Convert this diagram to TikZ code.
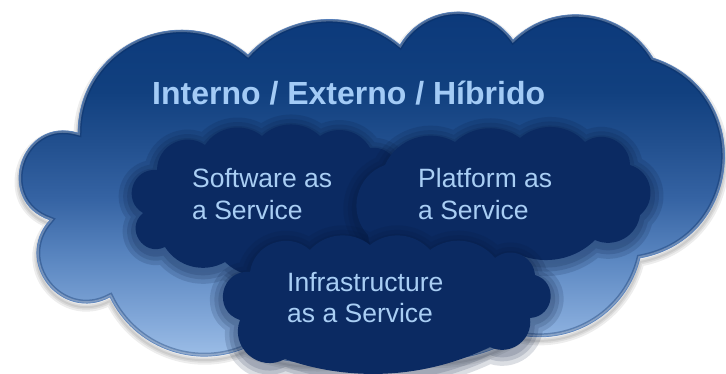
\documentclass[tikz,border=0pt]{standalone}
\usepackage{fontspec}
\setmainfont{Liberation Sans}
\definecolor{s0}{HTML}{0B387A}
\definecolor{s1}{HTML}{11407F}
\definecolor{s2}{HTML}{22508F}
\definecolor{s3}{HTML}{3563A3}
\definecolor{s4}{HTML}{5C88C2}
\definecolor{s5}{HTML}{86ABDB}
\definecolor{s6}{HTML}{A0C1E9}
\definecolor{halocol}{HTML}{04163A}
\definecolor{smallfill}{HTML}{0B2A62}
\definecolor{smalltxt}{HTML}{A9CEF4}
\definecolor{titletxt}{HTML}{A3CBF6}
\definecolor{rimdark}{HTML}{082A5E}
\definecolor{rimout}{HTML}{4F7DBE}
\pgfdeclareverticalshading{bigshade}{100bp}{color(0bp)=(s6); color(26bp)=(s6); color(31bp)=(s5); color(39.6bp)=(s4); color(48.1bp)=(s3); color(55.3bp)=(s2); color(62.4bp)=(s1); color(75bp)=(s0); color(100bp)=(s0)}
\def\bigpath{(78,133) to[bump=0.32] (248,55) to[bump=0.2] (400,45) to[bump=0.27] (513,40) to[bump=0.24] (653,58) to[bump=0.39] (640,258) to[bump=0.2] (520,335) to[bump=0.12] (385,350) to[bump=0.1] (245,348) to[bump=0.2] (110,297) to[bump=0.42] (50,220) to[bump=0.49] (78,133) -- cycle}
\def\saaspath{(143,213) to[bump=0.4] (157,170) to[bump=0.3] (205,145) to[bump=0.22] (262,136) to[bump=0.2] (320,136) to[bump=0.22] (370,148) to[bump=0.35] (392,190) to[bump=0.3] (380,245) to[bump=0.2] (300,262) to[bump=0.2] (225,262) to[bump=0.2] (165,247) to[bump=0.44] (143,213) -- cycle}
\def\paaspath{(368,235) to[bump=0.27] (385,165) to[bump=0.22] (455,142) to[bump=0.18] (520,138) to[bump=0.2] (585,142) to[bump=0.3] (630,165) to[bump=0.3] (640,215) to[bump=0.25] (595,240) to[bump=0.15] (520,255) to[bump=0.15] (420,258) to[bump=0.3] (368,235) -- cycle}
\def\iaaspath{(240,320) to[bump=0.45] (250,272) to[bump=0.3] (310,250) to[bump=0.2] (370,245) to[bump=0.2] (430,250) to[bump=0.2] (495,258) to[bump=0.3] (535,275) to[bump=0.42] (530,318) to[bump=0.3] (490,347) to[bump=0.1] (285,359) to[bump=0.35] (240,320) -- cycle}
\begin{document}
\begin{tikzpicture}[x=1pt,y=-1pt,
  bump/.code={\pgfmathsetmacro\bumpang{2*atan(2*#1)}\pgfmathsetmacro\bumploose{(1+4*#1*#1)/1.1745}\edef\bumpdo{\noexpand\pgfkeysalso{/tikz/bend left=\bumpang,/tikz/looseness=\bumploose}}\bumpdo},
  halo/.style={draw=halocol, line width=#1, opacity=0.14, line join=round},
  bigshadow/.style={draw=black, line width=#1, opacity=0.07, line join=round},
  smallcloud/.style={fill=smallfill},
  lab/.style={text=smalltxt, font=\fontsize{26.5}{32}\selectfont, align=left, inner sep=0pt},
  titlelab/.style={text=titletxt, font=\bfseries\fontsize{32}{36}\selectfont, inner sep=0pt}
]
\fill[white] (0,0) rectangle (726,374);
\useasboundingbox (0,0) rectangle (726,374);
% big cloud shadow
\begin{scope}[yshift=-4pt]
  \foreach \w in {9pt,5pt,2pt} \draw[bigshadow=\w] \bigpath;
\end{scope}
% big cloud body
\shade[shading=bigshade] \bigpath;
\begin{scope}
  \clip \bigpath;
  \draw[line width=7pt, draw=rimdark, opacity=0.35] \bigpath;
  \draw[line width=4pt, draw=white, opacity=0.28] \bigpath;
\end{scope}
\draw[line width=0.7pt, draw=rimout, opacity=0.8] \bigpath;
\node[titlelab, anchor=base west] (title) at (152,105) {Interno / Externo / Híbrido};
% SaaS
\begin{scope}[yshift=-3pt]
  \foreach \w in {26pt,17pt,9pt} \draw[halo=\w] \saaspath;
\end{scope}
\fill[smallcloud] \saaspath;
% PaaS
\begin{scope}[yshift=-3pt]
  \foreach \w in {26pt,17pt,9pt} \draw[halo=\w] \paaspath;
\end{scope}
\fill[smallcloud] \paaspath;
% IaaS
\begin{scope}[yshift=-3pt]
  \foreach \w in {26pt,17pt,9pt} \draw[halo=\w] \iaaspath;
\end{scope}
\fill[smallcloud] \iaaspath;
\node[lab, anchor=base west] (saas) at (192,220) {Software as\\a Service};
\node[lab, anchor=base west] (paas) at (418,220) {Platform as\\a Service};
\node[lab, anchor=base west] (iaas) at (287,323) {Infrastructure\\as a Service};
\end{tikzpicture}
\end{document}
